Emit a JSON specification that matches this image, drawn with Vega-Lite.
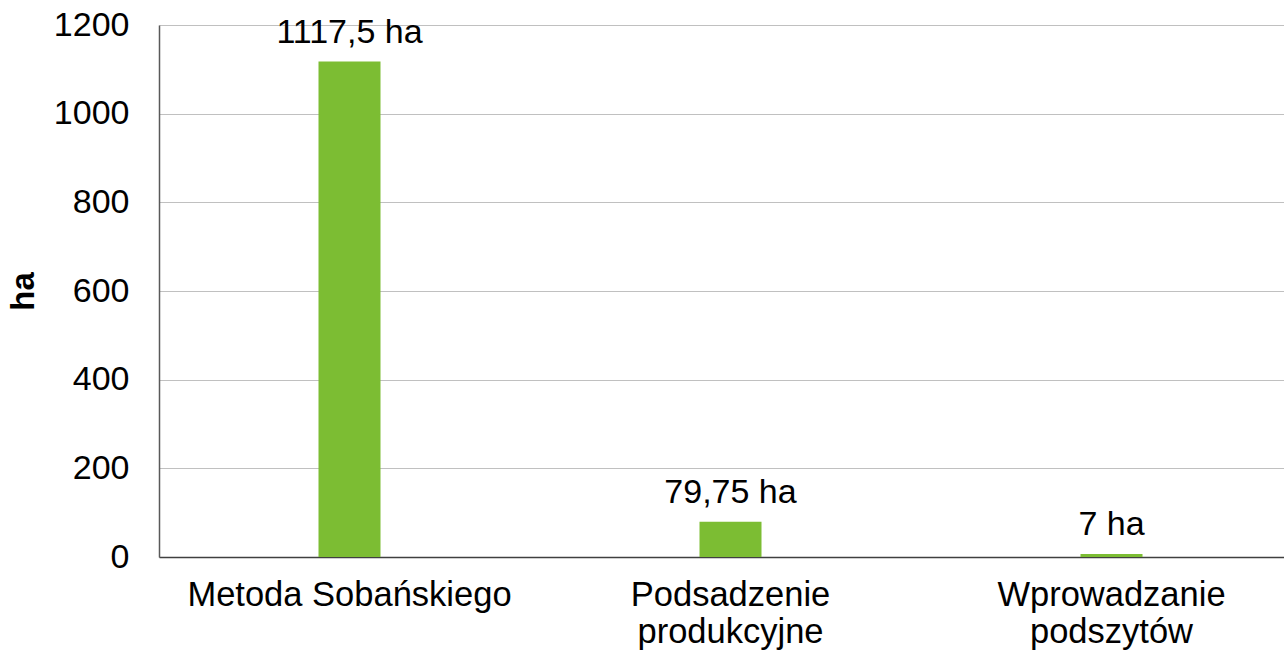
{
  "$schema": "https://vega.github.io/schema/vega-lite/v6.json",
  "width": 1143,
  "height": 532,
  "autosize": {"type": "none"},
  "padding": {"left": 159, "top": 25, "right": 0, "bottom": 98},
  "background": "white",
  "data": {
    "values": [
      {"category": "Metoda Sobańskiego", "value": 1117.5, "label": "1117,5 ha"},
      {"category": "Podsadzenie produkcyjne", "value": 79.75, "label": "79,75 ha"},
      {"category": "Wprowadzanie podszytów", "value": 7, "label": "7 ha"}
    ]
  },
  "config": {
    "font": "Liberation Sans",
    "view": {"stroke": null}
  },
  "encoding": {
    "x": {
      "field": "category",
      "type": "nominal",
      "sort": null,
      "scale": {"paddingInner": 0, "paddingOuter": 0},
      "axis": {
        "title": null,
        "labelAngle": 0,
        "labelFontSize": 34.5,
        "labelColor": "#000000",
        "labelPadding": 21,
        "labelLineHeight": 37,
        "labelLimit": 0,
        "labelExpr": "datum.label == 'Metoda Sobańskiego' ? datum.label : split(datum.label, ' ')",
        "ticks": false,
        "domainColor": "#404040",
        "domainWidth": 1.5,
        "grid": false
      }
    },
    "y": {
      "field": "value",
      "type": "quantitative",
      "scale": {"domain": [0, 1200], "nice": false},
      "axis": {
        "title": "ha",
        "titleFontSize": 33,
        "titleFontWeight": "bold",
        "titleColor": "#000000",
        "titlePadding": 13,
        "values": [0, 200, 400, 600, 800, 1000, 1200],
        "format": "d",
        "labelFontSize": 34,
        "labelColor": "#000000",
        "labelPadding": 30,
        "ticks": false,
        "domainColor": "#595959",
        "domainWidth": 1.5,
        "gridColor": "#C0C0C0",
        "gridWidth": 1.2
      }
    }
  },
  "layer": [
    {
      "mark": {"type": "bar", "size": 62, "color": "#7CBD33"}
    },
    {
      "mark": {"type": "text", "baseline": "alphabetic", "dy": -19, "fontSize": 34, "color": "#000000"},
      "encoding": {"text": {"field": "label", "type": "nominal"}}
    }
  ]
}
